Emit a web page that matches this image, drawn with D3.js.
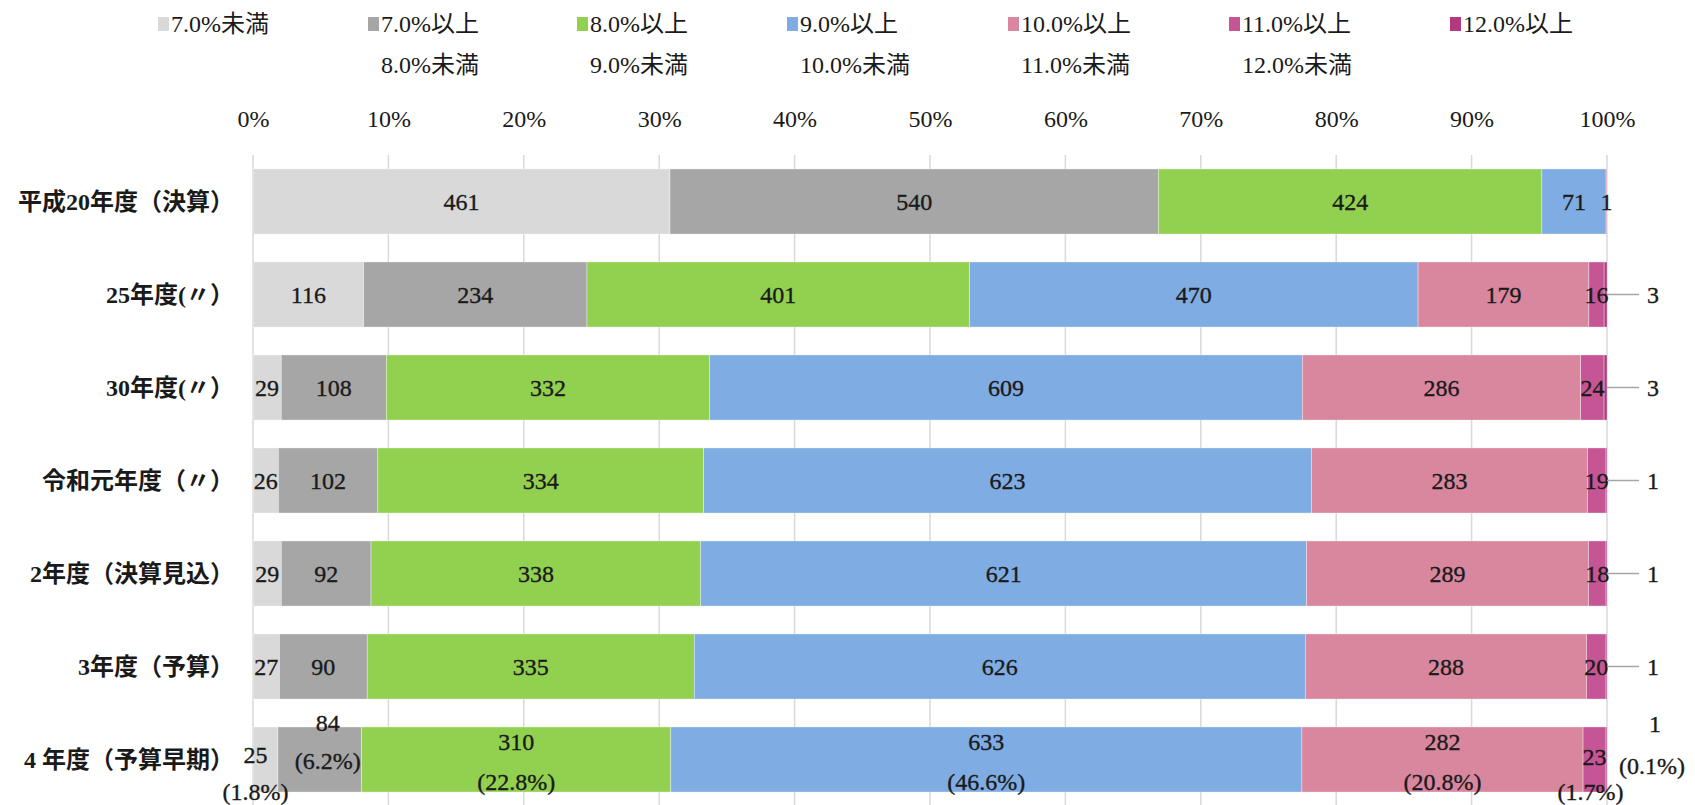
<!DOCTYPE html>
<html>
<head>
<meta charset="utf-8">
<script src="https://cdn.jsdelivr.net/npm/d3@7"></script>
<style>
  html, body { margin: 0; padding: 0; background: #fff; }
  svg { display: block; }
  text { font-family: "Liberation Serif", "Noto Sans CJK JP", serif; fill: #1a1a1a; }
</style>
</head>
<body>
<svg id="chart" width="1695" height="805"></svg>
<script>
// Fiscal years (rows, top to bottom)
const categories = [
  "平成20年度（決算）",
  "25年度(〃）",
  "30年度(〃）",
  "令和元年度（〃）",
  "2年度（決算見込）",
  "3年度（予算）",
  "4 年度（予算早期）"
];

// Rate bands (stack order, left to right)
const seriesKeys = ["lt7", "r7", "r8", "r9", "r10", "r11", "ge12"];
const legendLabels = [
  ["7.0%未満"],
  ["7.0%以上", "8.0%未満"],
  ["8.0%以上", "9.0%未満"],
  ["9.0%以上", "10.0%未満"],
  ["10.0%以上", "11.0%未満"],
  ["11.0%以上", "12.0%未満"],
  ["12.0%以上"]
];
const colors = ["#d9d9d9", "#a6a6a6", "#92d050", "#7facE2", "#d8879f", "#c55594", "#b2397e"];

// Counts per band, one array per band (index = row)
const lt7  = [461, 116,  29,  26,  29,  27,  25];
const r7   = [540, 234, 108, 102,  92,  90,  84];
const r8   = [424, 401, 332, 334, 338, 335, 310];
const r9   = [ 71, 470, 609, 623, 621, 626, 633];
const r10  = [  1, 179, 286, 283, 289, 288, 282];
const r11  = [  0,  16,  24,  19,  18,  20,  23];
const ge12 = [  0,   3,   3,   1,   1,   1,   1];

const tickValues = [0, 0.1, 0.2, 0.3, 0.4, 0.5, 0.6, 0.7, 0.8, 0.9, 1.0];

const seriesData = [lt7, r7, r8, r9, r10, r11, ge12];
const rows = categories.map((c, i) => {
  const o = { cat: c };
  seriesKeys.forEach((k, j) => { o[k] = seriesData[j][i]; });
  o.total = d3.sum(seriesData, s => s[i]);
  return o;
});

const svg = d3.select("#chart");

const x = d3.scaleLinear().domain([0, 1]).range([253, 1607]);
const y = d3.scaleBand().domain(categories).range([155, 806]).paddingInner(0.3).paddingOuter(0.15);
const color = d3.scaleOrdinal().domain(seriesKeys).range(colors);

// Vertical gridlines
svg.append("g").selectAll("line").data(tickValues).join("line")
  .attr("x1", d => x(d)).attr("x2", d => x(d))
  .attr("y1", 155).attr("y2", 805)
  .attr("stroke", "#d9d9d9").attr("stroke-width", 1.5);

// Percent axis along the top
const axis = svg.append("g")
  .attr("transform", "translate(0,127)")
  .call(d3.axisTop(x).tickValues(tickValues).tickFormat(d3.format(".0%")).tickSize(0).tickPadding(0));
axis.select(".domain").remove();
axis.selectAll("text")
  .attr("font-size", 24)
  .attr("font-family", "Liberation Serif, serif")
  .attr("fill", "#1a1a1a");

// Stacked shares
const stack = d3.stack().keys(seriesKeys).value((d, k) => d[k] / d.total);
const layers = stack(rows);

svg.append("g").selectAll("g").data(layers).join("g")
  .attr("fill", d => color(d.key))
  .selectAll("rect").data(d => d).join("rect")
  .attr("x", d => x(d[0]))
  .attr("y", d => y(d.data.cat))
  .attr("width", d => Math.max(0, x(d[1]) - x(d[0])))
  .attr("height", y.bandwidth())
  .attr("stroke", "#ffffff").attr("stroke-width", 0.6).attr("stroke-opacity", 0.6);

// Category labels (the closing full-width bracket carries blank space on its right)
svg.append("g").selectAll("text").data(categories).join("text")
  .attr("x", 234)
  .attr("y", d => y(d) + y.bandwidth() / 2 + 8)
  .attr("text-anchor", "end")
  .attr("font-size", 24)
  .attr("font-weight", "bold")
  .text(d => d);

// Legend
const legendX = [158, 368, 577, 787, 1008, 1229, 1450];
const legend = svg.append("g").selectAll("g").data(seriesKeys).join("g")
  .attr("transform", (d, i) => `translate(${legendX[i]},0)`);
legend.append("rect")
  .attr("x", 0).attr("y", 17).attr("width", 11).attr("height", 14)
  .attr("fill", d => color(d));
legend.each(function(d, i) {
  d3.select(this).selectAll("text").data(legendLabels[i]).join("text")
    .attr("x", 13)
    .attr("y", (t, j) => 32 + j * 41)
    .attr("font-size", 24)
    .text(t => t);
});

// Value labels
const labelG = svg.append("g")
  .attr("stroke", "#1a1a1a").attr("stroke-width", 0.35);
const lastRow = categories.length - 1;
const pctFmt = v => "(" + d3.format(".1f")(v * 100) + "%)";

// Offsets for the two-line labels on the last row: [value dx, value dy, pct dx, pct dy]
const lastRowOffsets = [
  [-10, -5, -10, 32],
  [8, -37, 8, 1],
  [0, -18, 0, 22],
  [0, -18, 0, 22],
  [0, -18, 0, 22],
  [0, -3, -4, 32],
  [null, -36, null, 6]
];

layers.forEach((layer, si) => {
  layer.forEach((seg, ri) => {
    const v = seg.data[layer.key];
    if (!v) return;
    const cy = y(seg.data.cat) + y.bandwidth() / 2;
    const cx = (x(seg[0]) + x(seg[1])) / 2;
    const isLastSeries = si === seriesKeys.length - 1;

    if (ri === lastRow) {
      const o = lastRowOffsets[si];
      const vx = o[0] === null ? 1655 : cx + o[0];
      const px = o[2] === null ? 1652 : cx + o[2];
      labelG.append("text")
        .attr("x", vx).attr("y", cy + o[1] + 8)
        .attr("text-anchor", "middle").attr("font-size", 24)
        .text(v);
      labelG.append("text")
        .attr("x", px).attr("y", cy + o[3] + 8)
        .attr("text-anchor", "middle").attr("font-size", 24)
        .text(pctFmt(seg[1] - seg[0]));
    } else if (isLastSeries) {
      // Tiny segment: label outside with a leader line
      labelG.append("line")
        .attr("x1", x(seg[1])).attr("x2", x(seg[1]) + 32)
        .attr("y1", cy).attr("y2", cy)
        .attr("stroke", "#a6a6a6").attr("stroke-width", 1.5);
      labelG.append("text")
        .attr("x", x(seg[1]) + 46).attr("y", cy + 8)
        .attr("text-anchor", "middle").attr("font-size", 24)
        .text(v);
    } else {
      labelG.append("text")
        .attr("x", cx).attr("y", cy + 8)
        .attr("text-anchor", "middle").attr("font-size", 24)
        .text(v);
    }
  });
});
</script>
</body>
</html>
